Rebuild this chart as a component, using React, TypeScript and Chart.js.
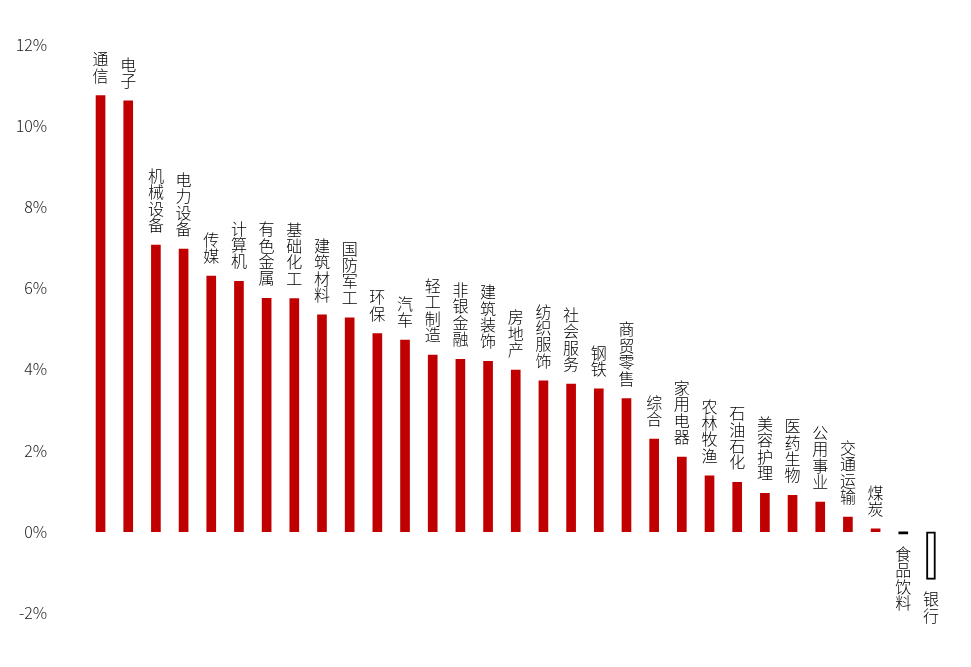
import React, { useEffect, useRef } from "react";
import { Chart, registerables } from "chart.js";

Chart.register(...registerables);

const categories: string[] = [
  "通信", "电子", "机械设备", "电力设备", "传媒", "计算机", "有色金属", "基础化工",
  "建筑材料", "国防军工", "环保", "汽车", "轻工制造", "非银金融", "建筑装饰", "房地产",
  "纺织服饰", "社会服务", "钢铁", "商贸零售", "综合", "家用电器", "农林牧渔", "石油石化",
  "美容护理", "医药生物", "公用事业", "交通运输", "煤炭", "食品饮料", "银行",
];

const values: number[] = [
  10.74, 10.61, 7.06, 6.96, 6.3, 6.17, 5.75, 5.74,
  5.34, 5.27, 4.88, 4.72, 4.35, 4.25, 4.2, 3.98,
  3.72, 3.64, 3.52, 3.28, 2.28, 1.84, 1.38, 1.22,
  0.95, 0.9, 0.73, 0.36, 0.07, -0.05, -1.17,
];

const yTicks: number[] = [-2, 0, 2, 4, 6, 8, 10, 12];

const FONT = '"Noto Sans CJK SC", "Noto Sans", sans-serif';

const verticalLabels = {
  id: "verticalLabels",
  afterDatasetsDraw(chart: any) {
    const ctx = chart.ctx;
    const meta = chart.getDatasetMeta(0);
    ctx.save();
    ctx.font = `300 16px ${FONT}`;
    ctx.fillStyle = "#000000";
    ctx.textAlign = "center";
    ctx.textBaseline = "middle";
    const step = 16.4;
    meta.data.forEach((el: any, i: number) => {
      const chars = Array.from(categories[i]);
      const v = values[i];
      const x = el.x;
      if (v >= 0) {
        const lastY = el.y - 20;
        chars.forEach((c, k) => {
          ctx.fillText(c, x, lastY - (chars.length - 1 - k) * step);
        });
      } else {
        const firstY = el.y + 20;
        chars.forEach((c, k) => {
          ctx.fillText(c, x, firstY + k * step);
        });
      }
    });
    ctx.restore();
  },
};

export default function App() {
  const ref = useRef<HTMLCanvasElement | null>(null);

  useEffect(() => {
    document.body.style.margin = "0";
    const canvas = ref.current;
    if (!canvas) return;
    const chart = new Chart(canvas, {
      type: "bar",
      data: {
        labels: categories,
        datasets: [
          {
            data: values,
            backgroundColor: values.map((v) =>
              v >= 0 ? "#C00000" : v > -0.2 ? "#000000" : "#FFFFFF"
            ),
            borderColor: values.map((v) => (v >= 0 ? "#C00000" : "#000000")),
            borderWidth: values.map((v) => (v >= 0 ? 0 : v > -0.2 ? 0 : 2)),
            borderSkipped: false,
            barThickness: values.map((v) => (v < 0 && v > -0.2 ? 10 : 9)) as any,
          },
        ],
      },
      options: {
        responsive: false,
        animation: false,
        layout: { padding: { top: 44.5, bottom: 54, right: 26.2, left: 0 } },
        plugins: {
          legend: { display: false },
          tooltip: { enabled: false },
        },
        scales: {
          x: { display: false, offset: true },
          y: {
            min: -2,
            max: 12,
            afterFit: (scale: any) => {
              scale.width = 86.7;
            },
            afterBuildTicks: (scale: any) => {
              scale.ticks = yTicks.map((v) => ({ value: v }));
            },
            grid: { display: false },
            border: { display: false },
            ticks: {
              padding: 31.5,
              color: "#1a1a1a",
              font: { family: FONT, size: 16, weight: "300" as any },
              callback: (v: any) => `${v}%`,
            },
          },
        },
      },
      plugins: [verticalLabels],
    });
    return () => chart.destroy();
  }, []);

  return (
    <div style={{ position: "absolute", left: 0, top: 0, width: 971, height: 667, background: "#fff" }}>
      <canvas ref={ref} width={971} height={667} style={{ display: "block", width: 971, height: 667 }} />
    </div>
  );
}
